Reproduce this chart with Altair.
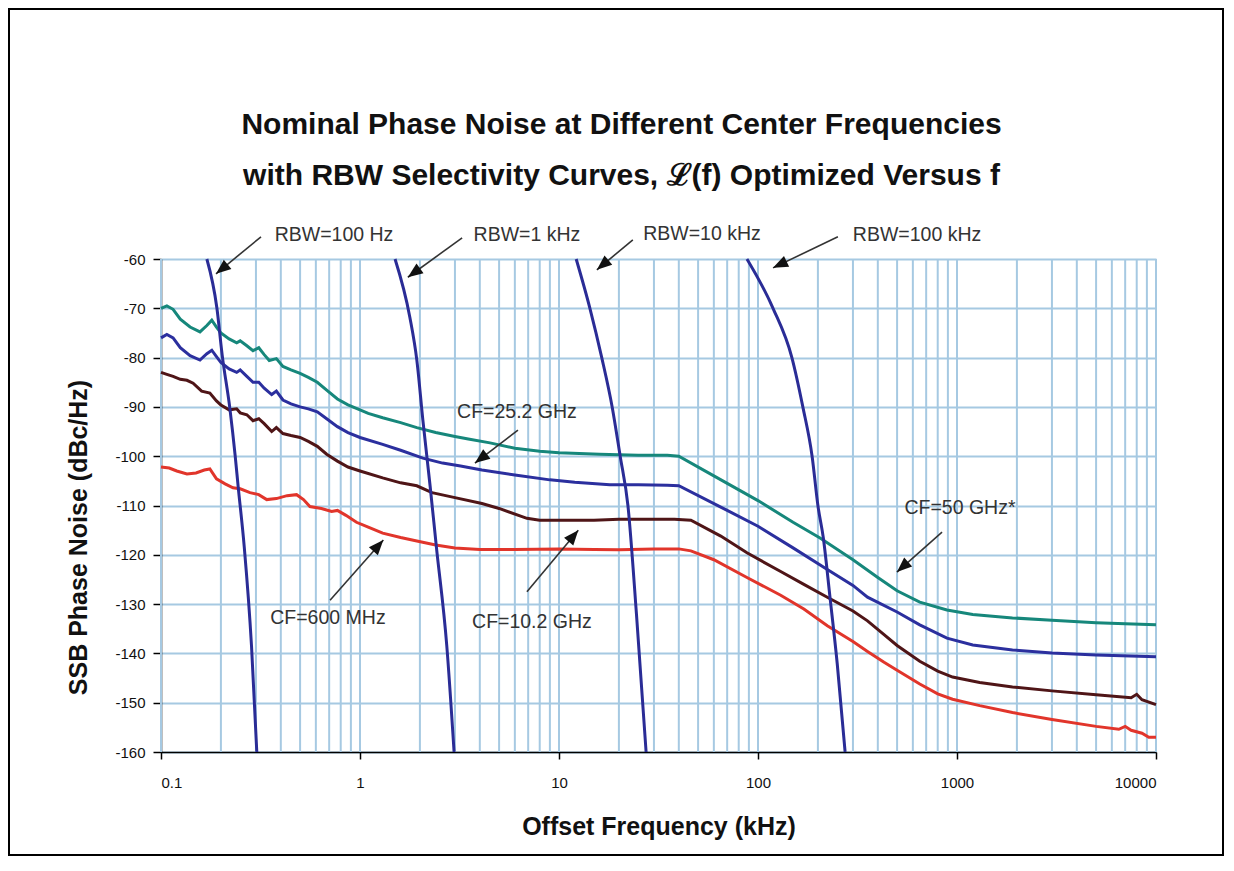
import math
import pandas as pd
import altair as alt

# ---------------- data ----------------
TEAL_X = [0.1,0.107,0.115,0.125,0.14,0.157,0.17,0.18,0.19,0.2,0.22,0.24,0.25,0.27,0.29,0.31,0.33,0.35,0.38,0.41,
          0.45,0.5,0.55,0.61,0.68,0.77,0.87,1.0,1.1,1.3,1.6,1.93,2.4,3.0,3.5,4.5,6.0,8.0,10,16,25,35,40,60,100,
          150,205,300,400,500,650,890,1200,1900,3000,5000,7000,10000]
TEAL_Y = [-70.0,-69.5,-70.2,-72.2,-73.8,-74.8,-73.5,-72.4,-73.8,-75.0,-76.2,-77.0,-76.6,-77.6,-78.6,-78.0,-79.4,
          -80.6,-80.2,-81.8,-82.5,-83.2,-84.0,-85.0,-86.6,-88.4,-89.6,-90.6,-91.3,-92.2,-93.2,-94.2,-95.2,-96.0,
          -96.5,-97.3,-98.4,-99.0,-99.3,-99.6,-99.8,-99.8,-100.0,-104.0,-109.0,-113.4,-116.6,-121.0,-124.6,-127.3,
          -129.6,-131.2,-132.1,-132.8,-133.3,-133.8,-134.0,-134.2]

BLUE_X = [0.1,0.107,0.115,0.125,0.14,0.157,0.17,0.18,0.19,0.2,0.22,0.24,0.25,0.27,0.29,0.31,0.33,0.36,0.38,0.41,
          0.45,0.5,0.55,0.61,0.68,0.77,0.87,1.0,1.3,1.6,2.07,2.6,3.2,4.1,6.0,9.0,12,18,25,35,40,70,100,150,223,
          300,355,500,650,890,1200,1900,3000,5000,10000]
BLUE_Y = [-76.0,-75.3,-76.0,-78.0,-79.6,-80.5,-79.2,-78.5,-79.8,-81.0,-82.3,-83.0,-82.5,-83.8,-85.0,-85.0,-86.2,
          -87.5,-86.8,-88.6,-89.4,-90.0,-90.4,-91.0,-92.4,-94.0,-95.2,-96.2,-97.6,-98.8,-100.4,-101.4,-102.0,
          -102.8,-103.8,-104.8,-105.3,-105.8,-105.8,-105.9,-106.0,-111.0,-114.2,-118.6,-123.0,-126.2,-128.6,
          -131.6,-134.2,-136.9,-138.3,-139.3,-139.9,-140.3,-140.7]

BROWN_X = [0.1,0.107,0.115,0.125,0.135,0.145,0.16,0.176,0.19,0.2,0.22,0.24,0.25,0.27,0.29,0.31,0.33,0.36,0.38,
           0.41,0.45,0.5,0.55,0.61,0.68,0.77,0.87,1.0,1.3,1.6,1.93,2.3,3.0,4.1,5.0,6.9,8,10,15,20,30,38,46,65,88,
           130,170,223,300,355,430,500,650,800,950,1300,1900,3000,5000,7500,8000,8500,10000]
BROWN_Y = [-83.0,-83.4,-83.8,-84.4,-84.6,-85.2,-86.8,-87.2,-88.8,-89.6,-90.6,-90.4,-91.2,-91.6,-92.8,-92.4,-93.4,
           -95.0,-94.2,-95.4,-95.8,-96.2,-97.0,-98.0,-99.6,-101.0,-102.2,-103.0,-104.4,-105.4,-106.0,-107.4,
           -108.4,-109.6,-110.6,-112.6,-113.0,-113.0,-113.0,-112.8,-112.8,-112.8,-113.0,-116.2,-119.6,-123.4,
           -126.0,-128.6,-131.4,-133.4,-136.2,-138.4,-141.6,-143.6,-144.8,-145.9,-146.8,-147.6,-148.4,-149.0,
           -148.3,-149.4,-150.4]

RED_X = [0.1,0.11,0.12,0.135,0.15,0.165,0.176,0.19,0.21,0.23,0.25,0.28,0.31,0.34,0.38,0.43,0.48,0.52,0.56,0.64,
         0.72,0.77,0.85,0.96,1.1,1.3,1.6,1.93,2.4,3.0,4.0,6.0,10,15,20,30,40,46,60,88,130,170,223,300,355,430,
         500,650,800,950,1300,1900,3000,5000,6500,7000,7500,8500,9200,10000]
RED_Y = [-102.2,-102.4,-103.0,-103.6,-103.4,-102.8,-102.6,-104.6,-105.6,-106.4,-106.6,-107.4,-107.8,-108.8,
         -108.6,-108.0,-107.8,-108.8,-110.2,-110.6,-111.2,-111.0,-112.0,-113.4,-114.4,-115.6,-116.5,-117.2,
         -118.0,-118.6,-118.9,-118.9,-118.8,-118.9,-119.0,-118.8,-118.8,-119.2,-121.0,-124.6,-128.2,-131.0,
         -134.4,-137.6,-139.6,-141.8,-143.4,-146.2,-148.2,-149.3,-150.6,-152.0,-153.4,-154.8,-155.4,-154.8,
         -155.6,-156.2,-157.0,-157.0]

CF_NAMES = ["CF=50 GHz*", "CF=25.2 GHz", "CF=10.2 GHz", "CF=600 MHz"]
CF_COLORS = ["#16877b", "#2b2f9e", "#4f1517", "#e1352b"]

# RBW selectivity curves
R100_X = [0.170, 0.191, 0.203, 0.222, 0.236, 0.244, 0.262, 0.285, 0.303]
R100_Y = [-60, -70, -79.5, -90.4, -100, -106, -118.4, -138.5, -160]
R1K_X = [1.50, 1.78, 1.93, 2.07, 2.25, 2.42, 2.73, 2.97]
R1K_Y = [-60, -71.8, -80.5, -92.7, -106, -118.4, -138.5, -160]
R10K_X = [12.2, 14.3, 16.4, 18.5, 20.3, 22.2, 24.5, 27.4]
R10K_Y = [-60, -70, -80, -90, -100, -110, -132, -160]
R100K_X = [88, 119, 148, 168, 187, 200, 213, 230, 250, 274]
R100K_Y = [-60, -70, -80, -90, -100, -110, -116.6, -128.6, -142, -160]

# annotations
LABELS = ["RBW=100 Hz", "RBW=1 kHz", "RBW=10 kHz", "RBW=100 kHz",
          "CF=25.2 GHz", "CF=50 GHz*", "CF=600 MHz", "CF=10.2 GHz"]
LABEL_X = [0.740, 6.90, 52.3, 630, 6.15, 1035, 0.690, 7.31]
LABEL_Y = [-55.1, -55.1, -54.9, -55.1, -91.0, -110.5, -132.8, -133.6]
ARROW_X0 = [0.318, 3.26, 23.5, 252, 6.22, 841, 0.707, 6.9]
ARROW_Y0 = [-55.5, -55.7, -56.1, -55.5, -94.7, -115.4, -129.2, -127.5]
ARROW_X1 = [0.189, 1.74, 15.5, 119, 3.78, 499, 1.31, 12.5]
ARROW_Y1 = [-63.0, -63.7, -62.2, -61.8, -101.4, -123.5, -117.0, -115.0]

X_TICKS = [0.1, 1, 10, 100, 1000, 10000]
Y_TICKS = [-60, -70, -80, -90, -100, -110, -120, -130, -140, -150, -160]
GRID_MULT = [1, 2, 3, 4, 5, 6, 7, 8, 9]

TITLE = ["Nominal Phase Noise at Different Center Frequencies",
         "with RBW Selectivity Curves, \u2112(f) Optimized Versus f"]

# ---------------- layout ----------------
W, H = 995, 493
PAD = {"left": 153, "top": 251, "right": 68, "bottom": 104}
XDOM = [0.1, 10000]
YDOM = [-160, -60]
FONT = "Liberation Sans"


def to_px(x, y):
    return (math.log10(x / XDOM[0]) * W / math.log10(XDOM[1] / XDOM[0]),
            (YDOM[1] - y) * H / (YDOM[1] - YDOM[0]))


def to_data(px, py):
    return (XDOM[0] * 10 ** (px * math.log10(XDOM[1] / XDOM[0]) / W),
            YDOM[1] - py * (YDOM[1] - YDOM[0]) / H)


xs = alt.Scale(type="log", domain=XDOM, nice=False)
ys = alt.Scale(domain=YDOM, nice=False, zero=False)

rows = []
for name, X, Y in zip(CF_NAMES, [TEAL_X, BLUE_X, BROWN_X, RED_X], [TEAL_Y, BLUE_Y, BROWN_Y, RED_Y]):
    for i, (a, b) in enumerate(zip(X, Y)):
        rows.append({"x": a, "y": b, "series": name, "i": i})
cf_df = pd.DataFrame(rows)

rrows = []
for name, X, Y in zip(["100 Hz", "1 kHz", "10 kHz", "100 kHz"],
                      [R100_X, R1K_X, R10K_X, R100K_X], [R100_Y, R1K_Y, R10K_Y, R100K_Y]):
    for i, (a, b) in enumerate(zip(X, Y)):
        rrows.append({"x": a, "y": b, "rbw": name, "i": i})
rbw_df = pd.DataFrame(rrows)

grid_df = pd.DataFrame({"gx": [d * m for d in [0.1, 1, 10, 100, 1000] for m in GRID_MULT] + [10000]})

lab_df = pd.DataFrame({"label": LABELS, "x": LABEL_X, "y": LABEL_Y})
arr_df = pd.DataFrame({"x0": ARROW_X0, "y0": ARROW_Y0, "x1": ARROW_X1, "y1": ARROW_Y1})

HEAD = 15.0
heads = []
for x0, y0, x1, y1 in zip(ARROW_X0, ARROW_Y0, ARROW_X1, ARROW_Y1):
    ax, ay = to_px(x0, y0)
    bx, by = to_px(x1, y1)
    dx, dy = bx - ax, by - ay
    L = math.hypot(dx, dy)
    ux, uy = dx / L, dy / L
    cx, cy = bx - ux * HEAD / 2, by - uy * HEAD / 2
    hx, hy = to_data(cx, cy)
    ang = math.degrees(math.atan2(ux, -uy)) % 360
    heads.append({"hx": hx, "hy": hy, "ang": ang})
head_df = pd.DataFrame(heads)

base_x_axis = alt.Axis(values=X_TICKS, grid=False, labelExpr="datum.value + ''", labelFontSize=15,
                       labelFont=FONT, labelColor="#111", tickSize=7, tickColor="black", tickWidth=1.5,
                       labelPadding=16, domainColor="black", domainWidth=1.5,
                       title="Offset Frequency (kHz)", titleFontSize=25, titleFont=FONT,
                       titleFontWeight="bold", titleColor="#111", titleY=74, titleBaseline="middle")
base_y_axis = alt.Axis(values=Y_TICKS, grid=True, gridColor="#a6c9e2", gridWidth=2,
                       labelExpr="datum.value + ''", labelFontSize=15, labelFont=FONT, labelColor="#111",
                       tickSize=8, tickColor="black", tickWidth=1.5, labelPadding=8,
                       domainColor="black", domainWidth=1.5,
                       title="SSB Phase Noise (dBc/Hz)", titleFontSize=25, titleFont=FONT,
                       titleFontWeight="bold", titleColor="#111", titleX=-83, titleY=278,
                       titleBaseline="middle")

grid = alt.Chart(grid_df).mark_rule(color="#a6c9e2", strokeWidth=2).encode(
    x=alt.X("gx:Q", scale=xs, axis=base_x_axis),
)

cf_lines = alt.Chart(cf_df).mark_line(strokeWidth=3).encode(
    x=alt.X("x:Q", scale=xs),
    y=alt.Y("y:Q", scale=ys, axis=base_y_axis),
    color=alt.Color("series:N", scale=alt.Scale(domain=CF_NAMES, range=CF_COLORS), legend=None),
    order="i:Q",
)

rbw_lines = alt.Chart(rbw_df).mark_line(strokeWidth=3, color="#2a2c96", interpolate="monotone").encode(
    x=alt.X("x:Q", scale=xs),
    y=alt.Y("y:Q", scale=ys),
    detail="rbw:N",
    order="i:Q",
)

arrows = alt.Chart(arr_df).mark_rule(color="#333333", strokeWidth=1.6).encode(
    x=alt.X("x0:Q", scale=xs), y=alt.Y("y0:Q", scale=ys),
    x2="x1:Q", y2="y1:Q",
)

arrow_heads = alt.Chart(head_df).mark_point(
    shape="M0,-1L0.8,1L-0.8,1Z", filled=True, color="#111111", size=HEAD * HEAD, opacity=1
).encode(
    x=alt.X("hx:Q", scale=xs), y=alt.Y("hy:Q", scale=ys),
    angle=alt.Angle("ang:Q", scale=None),
)

labels = alt.Chart(lab_df).mark_text(font=FONT, fontSize=19.5, color="#333333", align="center",
                                     baseline="middle").encode(
    x=alt.X("x:Q", scale=xs), y=alt.Y("y:Q", scale=ys), text="label:N",
)

# chart title drawn as a two-line text block above the plot
title = alt.Chart(pd.DataFrame({"a": [0]})).mark_text(
    text=TITLE, font=FONT, fontSize=30, fontWeight="bold", color="#111111",
    lineHeight=51, align="center", baseline="middle"
).encode(x=alt.value(W / 2 - 37), y=alt.value(-134))

border = alt.Chart(pd.DataFrame({"a": [0]})).mark_rect(
    fillOpacity=0, stroke="black", strokeWidth=2
).encode(
    x=alt.value(-PAD["left"] + 1), x2=alt.value(W + PAD["right"] - 1),
    y=alt.value(-PAD["top"] + 1), y2=alt.value(H + PAD["bottom"] - 1),
)

chart = alt.layer(grid, cf_lines, rbw_lines, arrows, arrow_heads, labels, title, border).properties(
    width=W, height=H,
    autosize=alt.AutoSizeParams(type="none"),
    padding=PAD,
).configure_view(stroke="black", strokeWidth=1.5).configure(background="white")

chart.save("out.html", embed_options={"renderer": "svg", "actions": False})
